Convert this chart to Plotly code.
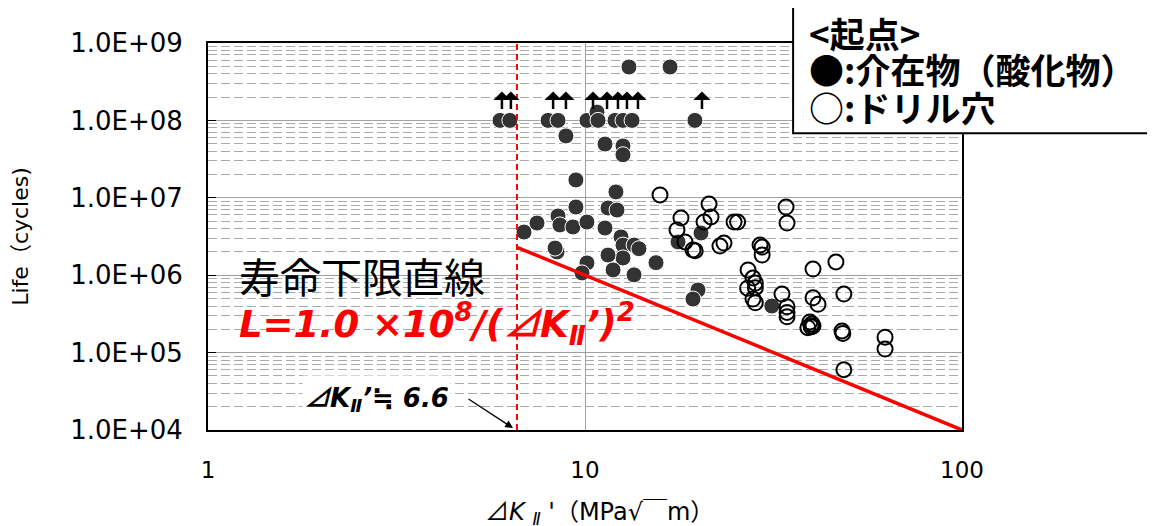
import plotly.graph_objects as go
import numpy as np

# ---------------- data ----------------
# Inclusion (oxide) origin - failed specimens
inc_x = [8.90, 11.30, 12.61, 12.61, 9.46, 12.08, 11.51, 12.16, 9.46, 8.48,
         7.46, 6.89, 8.58, 9.29, 10.12, 11.30, 12.46, 12.61, 13.5, 13.9,
         12.61, 11.51, 11.87, 13.49, 15.43, 10.12, 9.82, 8.43, 8.33, 19.94,
         19.34, 17.65, 20.31, 31.3]
inc_y = [6.3e7, 4.95e7, 4.67e7, 3.6e7, 1.70e7, 1.19e7, 7.38e6, 6.95e6, 7.6e6, 5.82e6,
         4.72e6, 3.61e6, 4.46e6, 4.2e6, 4.86e6, 4.07e6, 3.12e6, 2.45e6, 2.45e6, 2.2e6,
         1.67e6, 1.82e6, 1.17e6, 1.01e6, 1.45e6, 1.44e6, 1.07e6, 2.0e6, 2.24e6, 6.44e5,
         4.92e5, 2.69e6, 3.51e6, 4.0e5]

# Inclusion origin - run-outs (not failed)
run_x = [5.95, 6.32, 7.98, 8.48, 10.12, 10.76, 10.83, 12.01, 12.61, 13.33, 19.57,
         13.08, 16.81]
run_y = [1.0e8, 1.0e8, 1.0e8, 1.0e8, 1.0e8, 1.28e8, 1.0e8, 1.0e8, 1.0e8, 1.0e8, 1.0e8,
         4.9e8, 4.9e8]
arrow_x = [6.02, 6.36, 8.23, 8.90, 10.50, 11.44, 12.23, 12.92, 13.82, 20.43, 13.41, 16.91]
arrow_y = [1.0e8] * 10 + [4.9e8, 4.9e8]

# Drill hole origin
hole_x = [15.81, 17.97, 17.54, 18.42, 21.33, 21.59, 20.69, 19.34, 19.6, 22.80,
          23.37, 24.85, 25.4, 34.14, 34.35, 29.13, 29.5, 29.5, 27.07, 27.9,
          28.3, 27.0, 28.3, 27.9, 28.3, 33.3, 34.35, 34.35, 34.35, 40.25,
          46.3, 40.25, 41.5, 48.6, 39.5, 40.0, 40.25, 39.0, 39.8, 48.05,
          48.3, 62.5, 62.5, 48.6]
hole_y = [1.09e7, 5.48e6, 3.84e6, 2.69e6, 8.32e6, 5.65e6, 4.86e6, 2.12e6, 2.07e6, 2.38e6,
          2.6e6, 4.86e6, 4.86e6, 7.6e6, 4.72e6, 2.45e6, 2.31e6, 1.82e6, 1.17e6, 9.2e5,
          7.9e5, 6.8e5, 6.9e5, 4.92e5, 4.4e5, 5.7e5, 3.9e5, 3.3e5, 2.9e5, 1.2e6,
          1.48e6, 5.1e5, 4.2e5, 5.7e5, 2.49e5, 2.35e5, 2.2e5, 2.1e5, 2.15e5, 1.9e5,
          1.77e5, 1.58e5, 1.11e5, 6.0e4]

# lower-bound life line L = C / dK^2 starting at threshold dK
C_life = 1.0e8
dk_th = 6.6
dk_max = 100

y_tickvals = [1e4, 1e5, 1e6, 1e7, 1e8, 1e9]
y_ticktext = ["1.0E+04", "1.0E+05", "1.0E+06", "1.0E+07", "1.0E+08", "1.0E+09"]
x_tickvals = [1, 10, 100]
x_ticktext = ["1", "10", "100"]

# ---------------- figure ----------------
LAT = "DejaVu Sans, Noto Sans CJK JP"
CJK = "Noto Sans CJK JP"
TRI = "<span style=\"font-family:'Noto Sans CJK JP'\">⊿</span>"

fig = go.Figure()

fig.add_trace(go.Scatter(
    x=inc_x + run_x, y=inc_y + run_y, mode="markers",
    marker=dict(size=16, color="#333333", line=dict(color="white", width=1)),
    hoverinfo="x+y"))

fig.add_trace(go.Scatter(
    x=hole_x, y=hole_y, mode="markers",
    marker=dict(size=15, symbol="circle-open", color="black", line=dict(width=2)),
    hoverinfo="x+y"))

line_x = np.array([dk_th, dk_max])
fig.add_trace(go.Scatter(x=line_x, y=C_life / line_x ** 2, mode="lines",
                         line=dict(color="#FF0000", width=3.5), hoverinfo="skip"))
fig.add_trace(go.Scatter(x=[dk_th, dk_th], y=[y_tickvals[0], y_tickvals[-1]], mode="lines",
                         line=dict(color="#FF0000", width=2, dash="6px,4px"), hoverinfo="skip"))

DEC = 387 / 5.0  # pixels per decade on the y axis
annotations = []
# run-out arrows
for ax_, ay_ in zip(arrow_x, arrow_y):
    head_off = 29 if ay_ < 3e8 else 27
    tail_len = 19 if ay_ < 3e8 else 20
    annotations.append(dict(
        x=np.log10(ax_), y=np.log10(ay_) + head_off / DEC, xref="x", yref="y",
        text="", showarrow=True, ax=0, ay=tail_len, axref="pixel", ayref="pixel",
        arrowhead=1, arrowsize=1.15, arrowwidth=2.5, arrowcolor="black"))

annotations.append(dict(
    x=0.0385, y=0.4005, xref="paper", yref="paper", xanchor="left", yanchor="middle",
    text="寿命下限直線", showarrow=False, font=dict(family=CJK, size=41, color="black")))
annotations.append(dict(
    x=0.0385, y=0.2765, xref="paper", yref="paper", xanchor="left", yanchor="middle",
    text="<b><i>L=1.0 ×10<sup>8</sup>/(" + TRI + "K<sub>Ⅱ</sub>’)<sup>2</sup></i></b>",
    showarrow=False, font=dict(family=LAT, size=37, color="#FF0000")))
annotations.append(dict(
    x=0.224, y=0.0853, xref="paper", yref="paper", xanchor="center", yanchor="middle",
    text="<b><i>" + TRI + "K<sub>Ⅱ</sub>’≒ 6.6</i></b>", showarrow=False, bgcolor="white",
    font=dict(family=LAT, size=26, color="black")))
annotations.append(dict(
    x=0.4045, y=0.005, xref="paper", yref="paper", text="", showarrow=True,
    ax=-46, ay=-30, axref="pixel", ayref="pixel",
    arrowhead=2, arrowsize=1.2, arrowwidth=1.3, arrowcolor="black"))

# x axis title
annotations.append(dict(
    x=0.519, y=-0.208, xref="paper", yref="paper", xanchor="center", yanchor="middle",
    text=TRI + "<i>K</i> <sub><i>Ⅱ</i></sub> '（MPa√￣m）", showarrow=False,
    font=dict(family=LAT, size=24, color="black")))

# legend box text
leg_lines = [("<b>&lt;起点&gt;</b>", 1.028), ("<b>●:介在物（酸化物）</b>", 0.935),
             ("<b>○:ドリル穴</b>", 0.835)]
for t, yy in leg_lines:
    annotations.append(dict(
        x=0.794, y=yy, xref="paper", yref="paper", xanchor="left", yanchor="middle",
        text=t, showarrow=False, font=dict(family=CJK, size=35, color="black")))

# page body has an 8px margin: plot area is placed at page px x 208-962, y 43-430
fig.update_layout(
    width=1155, height=526,
    margin=dict(l=200, r=201, t=35, b=104),
    paper_bgcolor="white", plot_bgcolor="white",
    showlegend=False,
    annotations=annotations,
    shapes=[dict(type="rect", xref="paper", yref="paper", x0=0.776, x1=1.2533,
                 y0=0.767, y1=1.101, line=dict(color="black", width=2),
                 fillcolor="white", layer="above")],
    xaxis=dict(
        type="log", range=[0, 2], tickvals=x_tickvals, ticktext=x_ticktext,
        automargin=False,
        showgrid=True, gridcolor="#a0a0a0", gridwidth=1,
        showline=True, linecolor="black", linewidth=2, mirror=True,
        zeroline=False, ticks="", ticklabelstandoff=18,
        tickfont=dict(family=LAT, size=23, color="black")),
    yaxis=dict(
        type="log", range=[4, 9], tickvals=y_tickvals, ticktext=y_ticktext,
        automargin=False,
        showgrid=True, gridcolor="#a0a0a0", gridwidth=1,
        showline=True, linecolor="black", linewidth=2, mirror=True,
        zeroline=False, ticks="inside", ticklen=8, tickcolor="black",
        ticklabelstandoff=18,
        tickfont=dict(family=LAT, size=26, color="black"),
        minor=dict(tickvals=[k * 10 ** n for n in range(4, 9) for k in range(2, 10)],
                   showgrid=True, gridcolor="#aaaaaa", gridwidth=1, griddash="9px,4px",
                   ticks=""),
        title=dict(text="Life（cycles)", standoff=36,
                   font=dict(family=LAT, size=22, color="black"))),
)

fig.write_html("out.html")
